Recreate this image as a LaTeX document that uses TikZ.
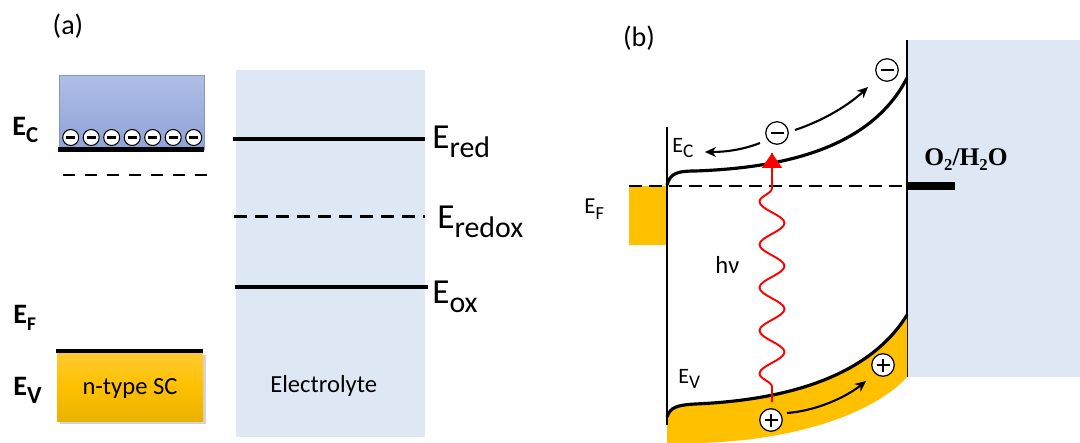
\documentclass[tikz,border=0pt]{standalone}
\usepackage{fontspec}
\setmainfont{Carlito}
\newfontfamily\timesfam{Liberation Serif}
\usetikzlibrary{arrows.meta,decorations.pathmorphing,shadows}
\definecolor{elec}{HTML}{DEE8F4}
\definecolor{sco}{HTML}{FFC000}
\definecolor{scotop}{HTML}{FFCB33}
\definecolor{scobot}{HTML}{E9B200}
\definecolor{cbtop}{HTML}{B0BEE6}
\definecolor{cbbot}{HTML}{8EA3D7}
\definecolor{cbline}{HTML}{7F96CF}
\newcommand\myfs[1]{\fontsize{#1}{#1}\selectfont}
\newcommand\mysub[3]{\raisebox{-#1}{\myfs{#2}#3}}
\begin{document}
\begin{tikzpicture}[x=0.02cm,y=-0.02cm,
  lbl/.style={anchor=base west,inner sep=0pt},
  thickline/.style={line width=2.3pt},
  dashline/.style={line width=1.4pt,dash pattern=on 0.25cm off 0.17cm},
  curveline/.style={line width=1.8pt},
  minusa/.style={circle,draw,fill=white,minimum size=0.32cm,inner sep=0pt,line width=0.6pt,
    path picture={\draw[line width=1.4pt] ([xshift=-0.09cm]path picture bounding box.center) -- ([xshift=0.09cm]path picture bounding box.center);}},
  minusb/.style={circle,draw,fill=white,minimum size=0.45cm,inner sep=0pt,line width=0.7pt,
    path picture={\draw[line width=1.6pt] ([xshift=-0.13cm]path picture bounding box.center) -- ([xshift=0.13cm]path picture bounding box.center);}},
  plusb/.style={circle,draw,fill=white,minimum size=0.45cm,inner sep=0pt,line width=0.7pt,
    path picture={\draw[line width=1.6pt] ([xshift=-0.13cm]path picture bounding box.center) -- ([xshift=0.13cm]path picture bounding box.center)
      ([yshift=-0.13cm]path picture bounding box.center) -- ([yshift=0.13cm]path picture bounding box.center);}},
  flowarrow/.style={line width=1.2pt,-{Stealth[length=0.22cm,width=0.2cm]}}
]
\useasboundingbox (0,0) rectangle (1080,443);

% ---------------- panel (a) ----------------
\node[font=\myfs{16}] (la) at (68,26) {(a)};
\fill[elec] (236,70) rectangle (425,437);
\node[font=\myfs{14},lbl] (elt) at (270,392) {Electrolyte};

% conduction band box
\shade[top color=cbtop,bottom color=cbbot,draw=cbline,line width=0.5pt] (59,75) rectangle (204,149);
\foreach \i in {0,...,6} {
  \node[minusa] (ma\i) at ({70.7+20.5*\i},137.5) {};
}
\coordinate (eca) at (58,149.5);
\coordinate (ecb) at (204,149.5);
\draw[thickline] (eca) -- (ecb);
\coordinate (efa) at (63,175);
\coordinate (efb) at (208,175);
\draw[dashline,dash pattern=on 0.24cm off 0.2cm] (efa) -- (efb);

% valence band box
\shade[top color=scotop,bottom color=scobot,middle color=sco,drop shadow={shadow xshift=0.06cm,shadow yshift=-0.06cm,opacity=0.35}] (57,352) rectangle (203,421);
\node[font=\myfs{14}] (nsc) at (130,388) {n-type SC};
\coordinate (eva) at (56,351);
\coordinate (evb) at (203,351);
\draw[thickline] (eva) -- (evb);

\node[lbl,font=\myfs{16}\bfseries] (lec) at (12,135) {E\mysub{4.5pt}{13}{C}};
\node[lbl,font=\myfs{16}\bfseries] (lef) at (13,323) {E\mysub{4pt}{11}{F}};
\node[lbl,font=\myfs{16}\bfseries] (lev) at (13,395) {E\mysub{5pt}{14}{V}};

% redox levels
\coordinate (rda) at (233,139);
\coordinate (rdb) at (425,139);
\draw[thickline,line width=2.2pt] (rda) -- (rdb);
\coordinate (rxa) at (234,216.5);
\coordinate (rxb) at (425,216.5);
\draw[dashline,dash pattern=on 0.26cm off 0.16cm] (rxa) -- (rxb);
\coordinate (oxa) at (235,287);
\coordinate (oxb) at (428,287);
\draw[thickline,line width=2.2pt] (oxa) -- (oxb);
\node[lbl,font=\myfs{20}] (lred) at (432,148) {E\mysub{5.5pt}{17}{red}};
\node[lbl,font=\myfs{20}] (lredox) at (437,228) {E\mysub{5.5pt}{17}{redox}};
\node[lbl,font=\myfs{20}] (lox) at (432,303) {E\mysub{5.5pt}{17}{ox}};

% ---------------- panel (b) ----------------
\node[font=\myfs{16}] (lb) at (639,38) {(b)};
\fill[elec] (907,40) rectangle (1080,377);
\coordinate (wt) at (907,40);
\coordinate (wb) at (907,377);
\draw[line width=1.7pt] (wt) -- (wb);

% metal Fermi block
\fill[sco] (629,186) rectangle (667,245);

% valence band bending (filled)
\fill[sco] (667,417) .. controls (670,407) and (678,405) .. (695,404)
  .. controls (790,400) and (870,375) .. (907,315)
  -- (907,377) .. controls (875,412) and (800,440) .. (700,443) -- (667,443) -- cycle;

\coordinate (lt) at (667,127);
\coordinate (lbt) at (667,425);
\draw[line width=1.7pt] (lt) -- (lbt);

% Fermi level
\coordinate (fa) at (629,186);
\coordinate (fb) at (905,186);
\draw[dashline,dash pattern=on 0.26cm off 0.14cm] (fa) -- (fb);
\coordinate (bra) at (907,186);
\coordinate (brb) at (955,186);
\draw[line width=5pt] (bra) -- (brb);
\node[lbl,font=\timesfam\bfseries\myfs{14.5}] (lo2) at (924,165) {O\mysub{3pt}{9.5}{2}/H\mysub{3pt}{9.5}{2}O};

% conduction band
\coordinate (ec0) at (667,185);
\coordinate (ec1) at (907,78);
\draw[curveline] (ec0) .. controls (670,173) and (678,171) .. (695,171)
  .. controls (780,168) and (870,150) .. (ec1);
% valence band line
\coordinate (ev0) at (667,417);
\coordinate (ev1) at (907,315);
\draw[curveline] (ev0) .. controls (670,407) and (678,405) .. (695,404)
  .. controls (790,400) and (870,375) .. (ev1);

% labels
\node[lbl,font=\myfs{12.5}] (lecb) at (672,152) {E\mysub{3pt}{11}{C}};
\node[lbl,font=\myfs{13}] (lefb) at (584,213) {E\mysub{3.5pt}{10.5}{F}};
\node[lbl,font=\myfs{12.5}] (levb) at (678,383) {E\mysub{3pt}{11}{V}};
\node[lbl,font=\myfs{14}] (lhv) at (715,273) {hν};

% photon
\coordinate (ph0) at (772,402);
\coordinate (ph1) at (772,153);
\draw[red,line width=1.1pt,decorate,decoration={snake,segment length=0.86cm,amplitude=0.25cm,pre length=0.3cm,post length=0.45cm}] (ph0) -- (ph1);
\draw[red,line width=1.1pt,-{Triangle[length=0.3cm,width=0.4cm]}] (772,170) -- (ph1);

% charges
\node[minusb] (e1) at (777,133) {};
\node[minusb] (e2) at (887,70) {};
\node[plusb] (h1) at (771,420) {};
\node[plusb] (h2) at (883,365) {};

% carrier arrows
\coordinate (a1s) at (760,143);
\coordinate (a1e) at (705,152);
\draw[flowarrow] (a1s) .. controls (742,150) and (725,152) .. (a1e);
\coordinate (a2s) at (795,130);
\coordinate (a2e) at (868,87);
\draw[flowarrow] (a2s) .. controls (825,120) and (850,104) .. (a2e);
\coordinate (a3s) at (787,413);
\coordinate (a3e) at (866,381);
\draw[flowarrow] (a3s) .. controls (815,411) and (845,398) .. (a3e);
\end{tikzpicture}
\end{document}
